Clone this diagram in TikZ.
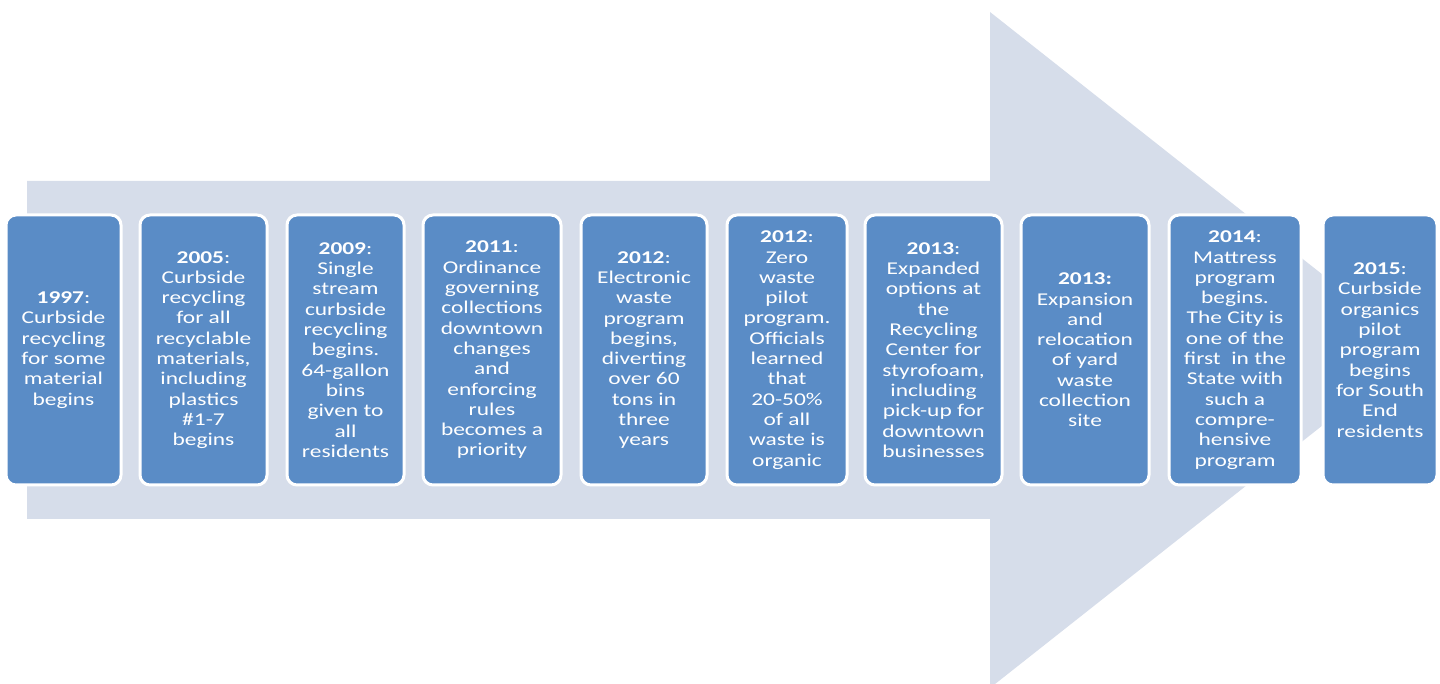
\documentclass[tikz,border=0pt]{standalone}
\usepackage{fontspec}
\setmainfont{Carlito}[FakeStretch=1.3]
\definecolor{eventblue}{RGB}{90,140,198}
\definecolor{arrowgrey}{RGB}{214,221,234}
\tikzset{
  eventbox/.style={rectangle, rounded corners=10pt, fill=eventblue, draw=white,
    line width=3pt, minimum height=270pt, inner sep=2pt, outer sep=0pt,
    text=white, align=center, font=\fontsize{18}{20.3}\selectfont}
}
\begin{document}
\begin{tikzpicture}[x=1pt, y=1pt]
\useasboundingbox (0,0) rectangle (1440,683);
% Background arrow
\fill[arrowgrey] (27,164) -- (990,164) -- (990,-5) -- (1418,333) -- (990,671) -- (990,502) -- (27,502) -- cycle;
% Timeline events
\node[eventbox, minimum width=115pt] (ev1997) at (63.5,333)
  {\textbf{1997}:\\Curbside\\recycling\\for some\\material\\begins};
\node[eventbox, minimum width=127pt] (ev2005) at (203.5,333)
  {\textbf{2005}:\\Curbside\\recycling\\for all\\recyclable\\materials,\\including\\plastics\\\#1-7\\begins};
\node[eventbox, minimum width=117pt] (ev2009) at (345.5,333)
  {\textbf{2009}:\\Single\\stream\\curbside\\recycling\\begins.\\64-gallon\\bins\\given to\\all\\residents};
\node[eventbox, minimum width=138pt] (ev2011) at (492,333)
  {\textbf{2011}:\\Ordinance\\governing\\collections\\downtown\\changes\\and\\enforcing\\rules\\becomes a\\priority};
\node[eventbox, minimum width=126pt] (ev2012a) at (644,333)
  {\textbf{2012}:\\Electronic\\waste\\program\\begins,\\diverting\\over 60\\tons in\\three\\years};
\node[eventbox, minimum width=120pt] (ev2012b) at (787,333)
  {\textbf{2012}:\\Zero\\waste\\pilot\\program.\\Officials\\learned\\that\\20-50\%\\of all\\waste is\\organic};
\node[eventbox, minimum width=137pt] (ev2013a) at (933.5,333)
  {\textbf{2013}:\\Expanded\\options at\\the\\Recycling\\Center for\\styrofoam,\\including\\pick-up for\\downtown\\businesses};
\node[eventbox, minimum width=128pt] (ev2013b) at (1085,333)
  {\textbf{2013:}\\Expansion\\and\\relocation\\of yard\\waste\\collection\\site};
\node[eventbox, minimum width=132pt] (ev2014) at (1235,333)
  {\textbf{2014}:\\Mattress\\program\\begins.\\The City is\\one of the\\first\ \ in the\\State with\\such a\\compre-\\hensive\\program};
\node[eventbox, minimum width=114pt] (ev2015) at (1380,333)
  {\textbf{2015}:\\Curbside\\organics\\pilot\\program\\begins\\for South\\End\\residents};
\end{tikzpicture}
\end{document}
